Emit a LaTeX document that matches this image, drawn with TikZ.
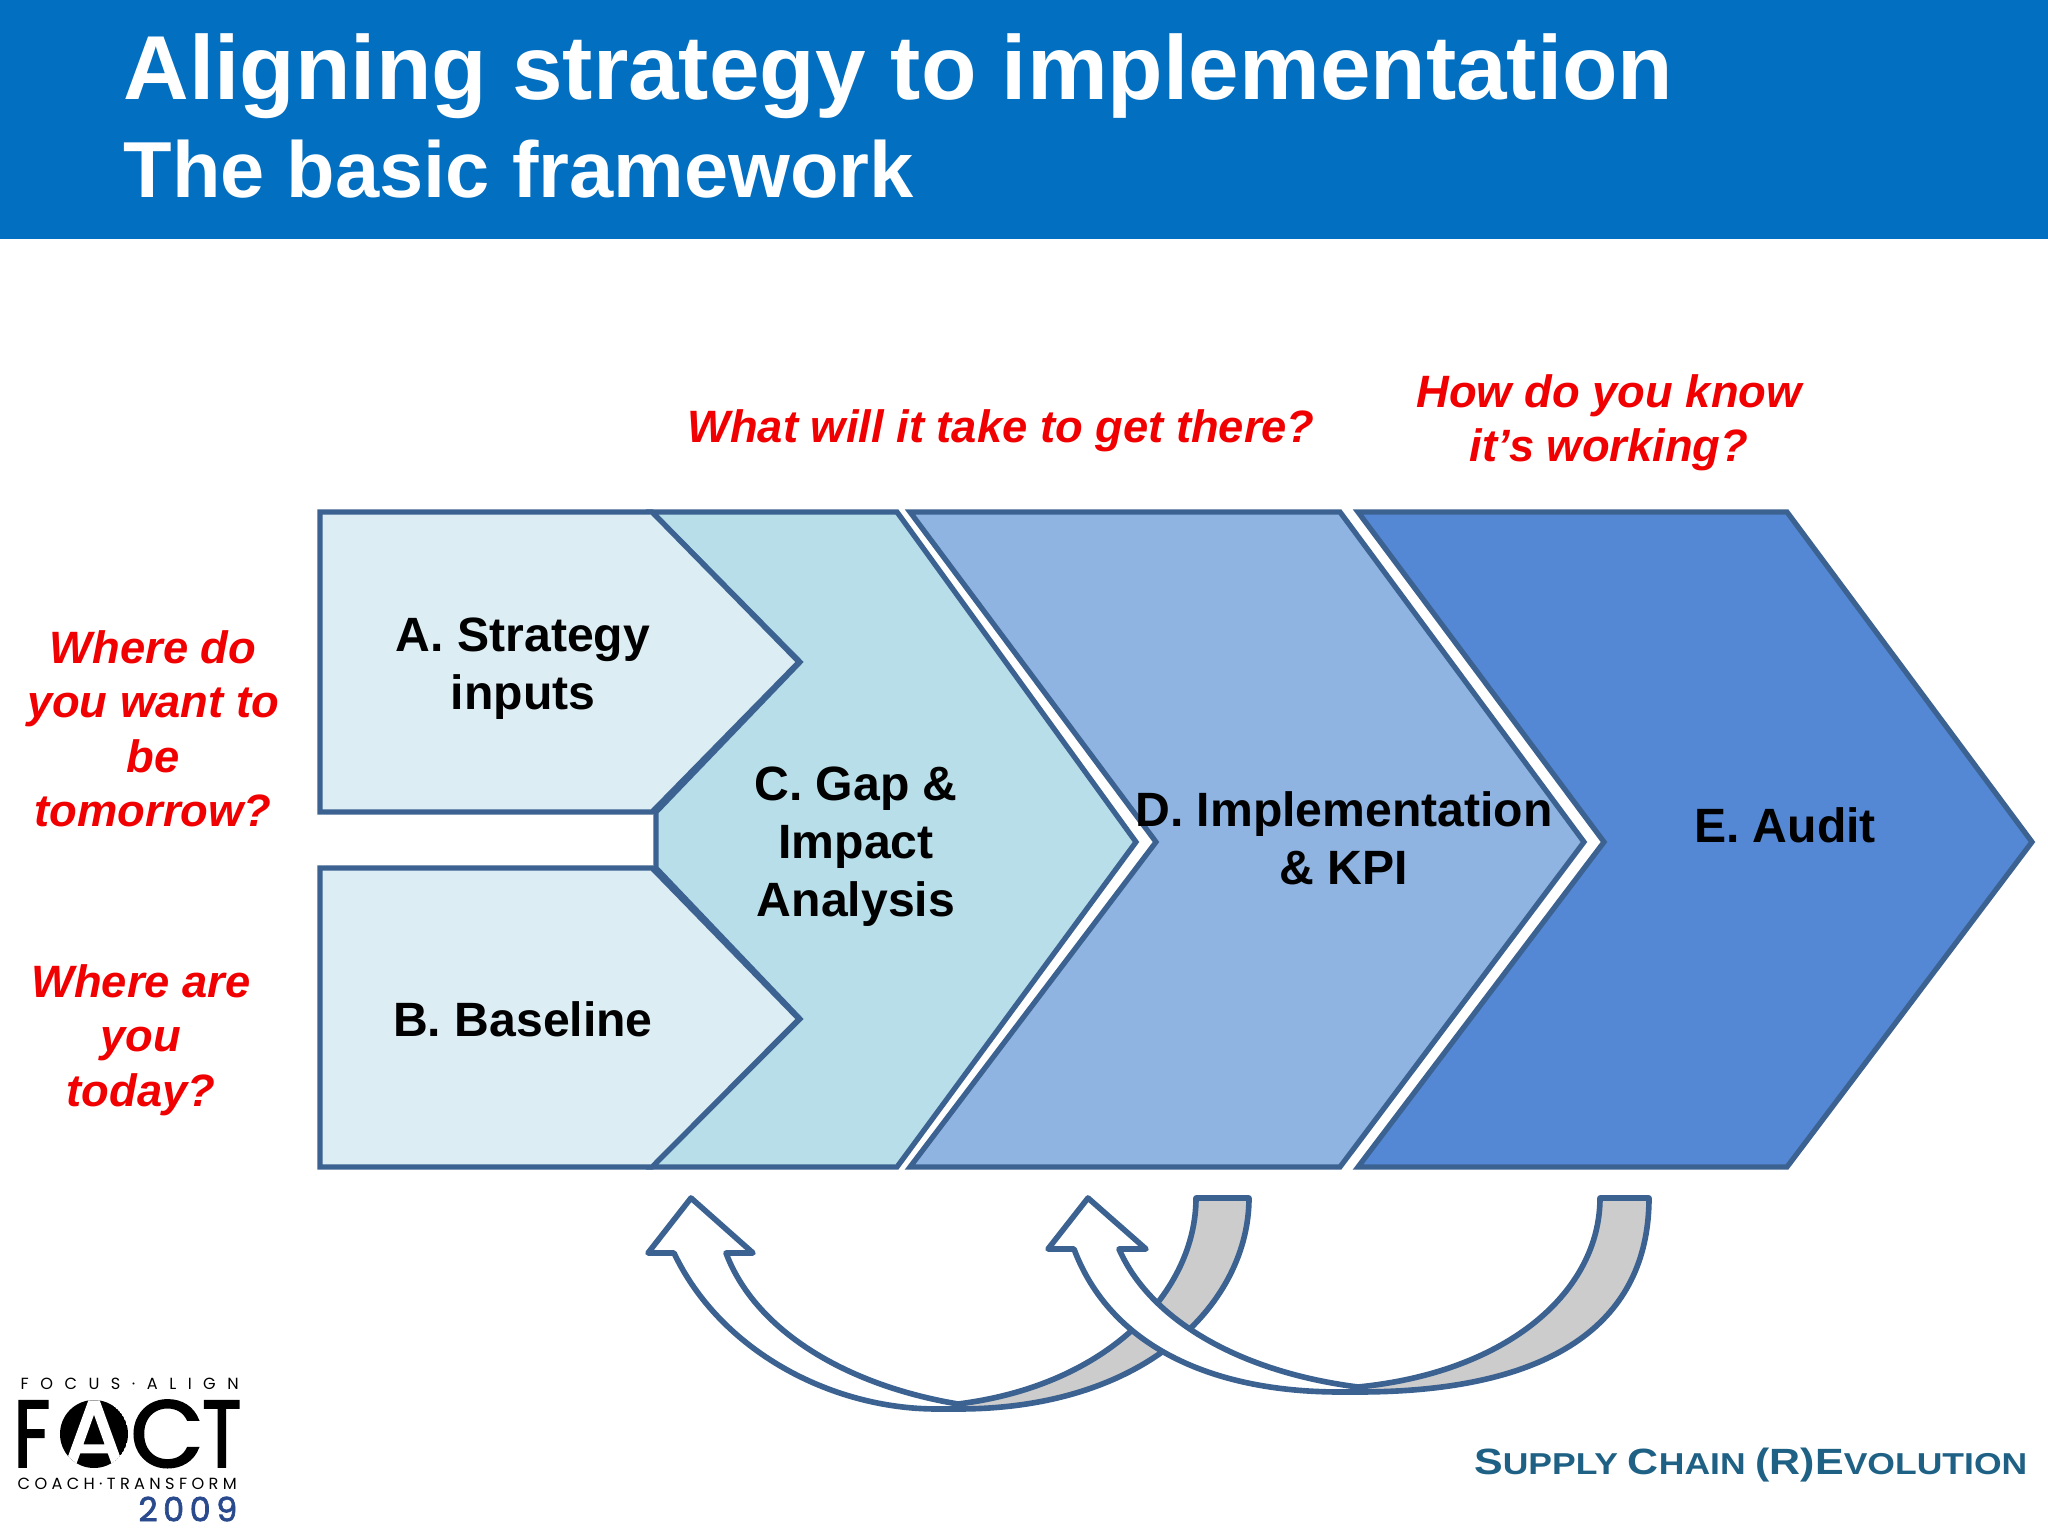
\documentclass[tikz,border=0pt]{standalone}
\usepackage{fontspec}
\setmainfont{Liberation Sans}
\newfontfamily\logofont{Poppins}
\newfontfamily\logoheavy[FakeBold=2]{Poppins}
\newfontfamily\logonarrow[FakeBold=2,FakeStretch=0.76]{Poppins}
\newfontfamily\footerfont[FakeStretch=1.175]{Liberation Sans Bold}
\usepackage{tikz}
\usetikzlibrary{positioning}

\definecolor{headblue}{HTML}{036FC1}
\definecolor{edgeblue}{HTML}{3B6291}
\definecolor{fillA}{HTML}{DCEDF4}
\definecolor{fillC}{HTML}{B8DEE9}
\definecolor{fillD}{HTML}{8FB4E2}
\definecolor{fillE}{HTML}{5588D4}
\definecolor{bandgrey}{HTML}{CCCCCC}
\definecolor{questred}{HTML}{F00000}
\definecolor{scblue}{HTML}{1F6185}
\definecolor{yearblue}{HTML}{2A4A8E}

\tikzset{
    blockshape/.style={draw=edgeblue, line width=1.5pt, line join=miter},
    bandgreyshape/.style={draw=edgeblue, line width=1.6pt, fill=bandgrey, line join=round},
    bandwhiteshape/.style={draw=edgeblue, line width=1.6pt, fill=white, line join=round},
    blocklabel/.style={align=center, inner sep=0pt, font=\fontsize{13.7}{16.5}\selectfont\bfseries},
    question/.style={align=center, inner sep=0pt, text=questred, font=\fontsize{12.9}{15.5}\selectfont\bfseries\itshape},
    logoline/.style={inner sep=0pt, font=\logofont\fontsize{4.6}{5}\selectfont},
    logoletter/.style={inner sep=0pt, text height=0.66cm, text depth=0pt, font=\logoheavy\fontsize{27}{30}\selectfont},
    logonarrowletter/.style={logoletter, font=\logonarrow\fontsize{27}{30}\selectfont}
}

\begin{document}
\begin{tikzpicture}
    \useasboundingbox (0,0) rectangle (20.48,-15.36);

    % Header
    \fill[headblue] (0,0) rectangle (20.48,-2.39);
    \node[anchor=base west, inner sep=0pt, text=white, font=\fontsize{25.85}{28}\selectfont\bfseries] (title) at (1.23,-1.0) {Aligning strategy to implementation};
    \node[anchor=base west, inner sep=0pt, text=white, font=\fontsize{22.6}{24}\selectfont\bfseries] (subtitle) at (1.23,-1.98) {The basic framework};

    % Blocks
    \draw[blockshape, fill=fillE] (13.58,-5.12) -- (17.87,-5.12) -- (20.32,-8.42) -- (17.87,-11.67) -- (13.58,-11.67) -- (16.04,-8.42) -- cycle;
    \draw[blockshape, fill=fillD] (9.10,-5.12) -- (13.40,-5.12) -- (15.84,-8.42) -- (13.40,-11.67) -- (9.10,-11.67) -- (11.56,-8.42) -- cycle;
    \draw[blockshape, fill=fillC] (6.52,-5.12) -- (8.97,-5.12) -- (11.36,-8.42) -- (8.97,-11.67) -- (6.52,-11.67) -- (8.00,-10.19) -- (6.56,-8.68) -- (6.56,-8.12) -- (8.00,-6.62) -- cycle;
    \draw[blockshape, fill=fillA] (3.20,-5.12) -- (6.52,-5.12) -- (7.99,-6.62) -- (6.52,-8.12) -- (3.20,-8.12) -- cycle;
    \draw[blockshape, fill=fillA] (3.20,-8.68) -- (6.52,-8.68) -- (7.99,-10.19) -- (6.52,-11.67) -- (3.20,-11.67) -- cycle;

    % Block labels
    \node[blocklabel] (strategy) at (5.23,-6.69) {A. Strategy\\inputs};
    \node[blocklabel] (baseline) at (5.23,-10.19) {B. Baseline};
    \node[blocklabel] (gap) at (8.56,-8.47) {C. Gap \&\\Impact\\Analysis};
    \node[blocklabel] (implementation) at (13.44,-8.38) {D. Implementation\\\& KPI};
    \node[blocklabel] (audit) at (17.85,-8.25) {E. Audit};

    % Questions
    \node[question] (qtomorrow) at (1.53,-7.29) {Where do\\you want to\\be\\tomorrow?};
    \node[question] (qtoday) at (1.41,-10.40) {Where are\\you\\today?};
    \node[question] (qthere) at (10.01,-4.31) {What will it take to get there?};
    \node[question] (qworking) at (16.09,-4.23) {How do you know\\it’s working?};

    % Feedback arrows
    \draw[bandgreyshape] (11.96,-11.98) .. controls (11.96,-12.90) and (11.10,-13.85) .. (9.58,-14.04) -- (9.58,-14.09) .. controls (11.50,-14.09) and (12.49,-13.00) .. (12.49,-11.98) -- cycle;
    \draw[bandwhiteshape] (6.91,-11.98) -- (7.53,-12.53) -- (7.26,-12.53) .. controls (7.55,-13.30) and (8.45,-13.85) .. (9.58,-14.04) -- (9.58,-14.09) -- (9.37,-14.09) .. controls (8.30,-14.09) and (7.20,-13.50) .. (6.74,-12.53) -- (6.48,-12.53) -- cycle;
    \draw[bandgreyshape] (16.00,-11.98) .. controls (16.00,-12.90) and (15.10,-13.72) .. (13.58,-13.87) -- (13.58,-13.92) .. controls (15.70,-13.92) and (16.49,-13.10) .. (16.49,-11.98) -- cycle;
    \draw[bandwhiteshape] (10.88,-11.98) -- (11.46,-12.49) -- (11.19,-12.49) .. controls (11.50,-13.20) and (12.40,-13.72) .. (13.58,-13.87) -- (13.58,-13.92) -- (13.40,-13.92) .. controls (12.10,-13.92) and (11.10,-13.45) .. (10.74,-12.49) -- (10.48,-12.49) -- cycle;

    % FACT logo
    \node[logoline, anchor=west, text width=2.18cm, align=flush left] (logotop) at (0.20,-13.84) {F\hfill O\hfill C\hfill U\hfill S\hfill ·\hfill A\hfill L\hfill I\hfill G\hfill N};
    \node[logonarrowletter, anchor=west] (logoF) at (0.13,-14.34) {F};
    \begin{scope}
        \clip (0.94,-14.34) circle (0.34);
        \fill (0.94,-14.34) circle (0.34);
        \node[logoletter, text=white] (logoA) at (0.94,-14.34) {A};
    \end{scope}
    \node[logoletter] (logoC) at (1.67,-14.34) {C};
    \node[logonarrowletter, anchor=east] (logoT) at (2.42,-14.34) {T};
    \node[logoline, anchor=west, text width=2.19cm, align=flush left] (logomid) at (0.17,-14.84) {C\hfill O\hfill A\hfill C\hfill H\hfill ·\hfill T\hfill R\hfill A\hfill N\hfill S\hfill F\hfill O\hfill R\hfill M};
    \node[anchor=east, inner sep=0pt, text=yearblue, font=\logoheavy\fontsize{9.5}{10}\selectfont] (logoyear) at (2.38,-15.09) {2\,0\,0\,9};

    % Footer
    \node[anchor=east, inner sep=0pt, text=scblue, font=\footerfont\fontsize{8.6}{9}\selectfont] (footer) at (20.28,-14.65) {{\fontsize{10.4}{9}\selectfont S}UPPLY {\fontsize{10.4}{9}\selectfont C}HAIN {\fontsize{10.4}{9}\selectfont (R)E}VOLUTION};
\end{tikzpicture}
\end{document}
